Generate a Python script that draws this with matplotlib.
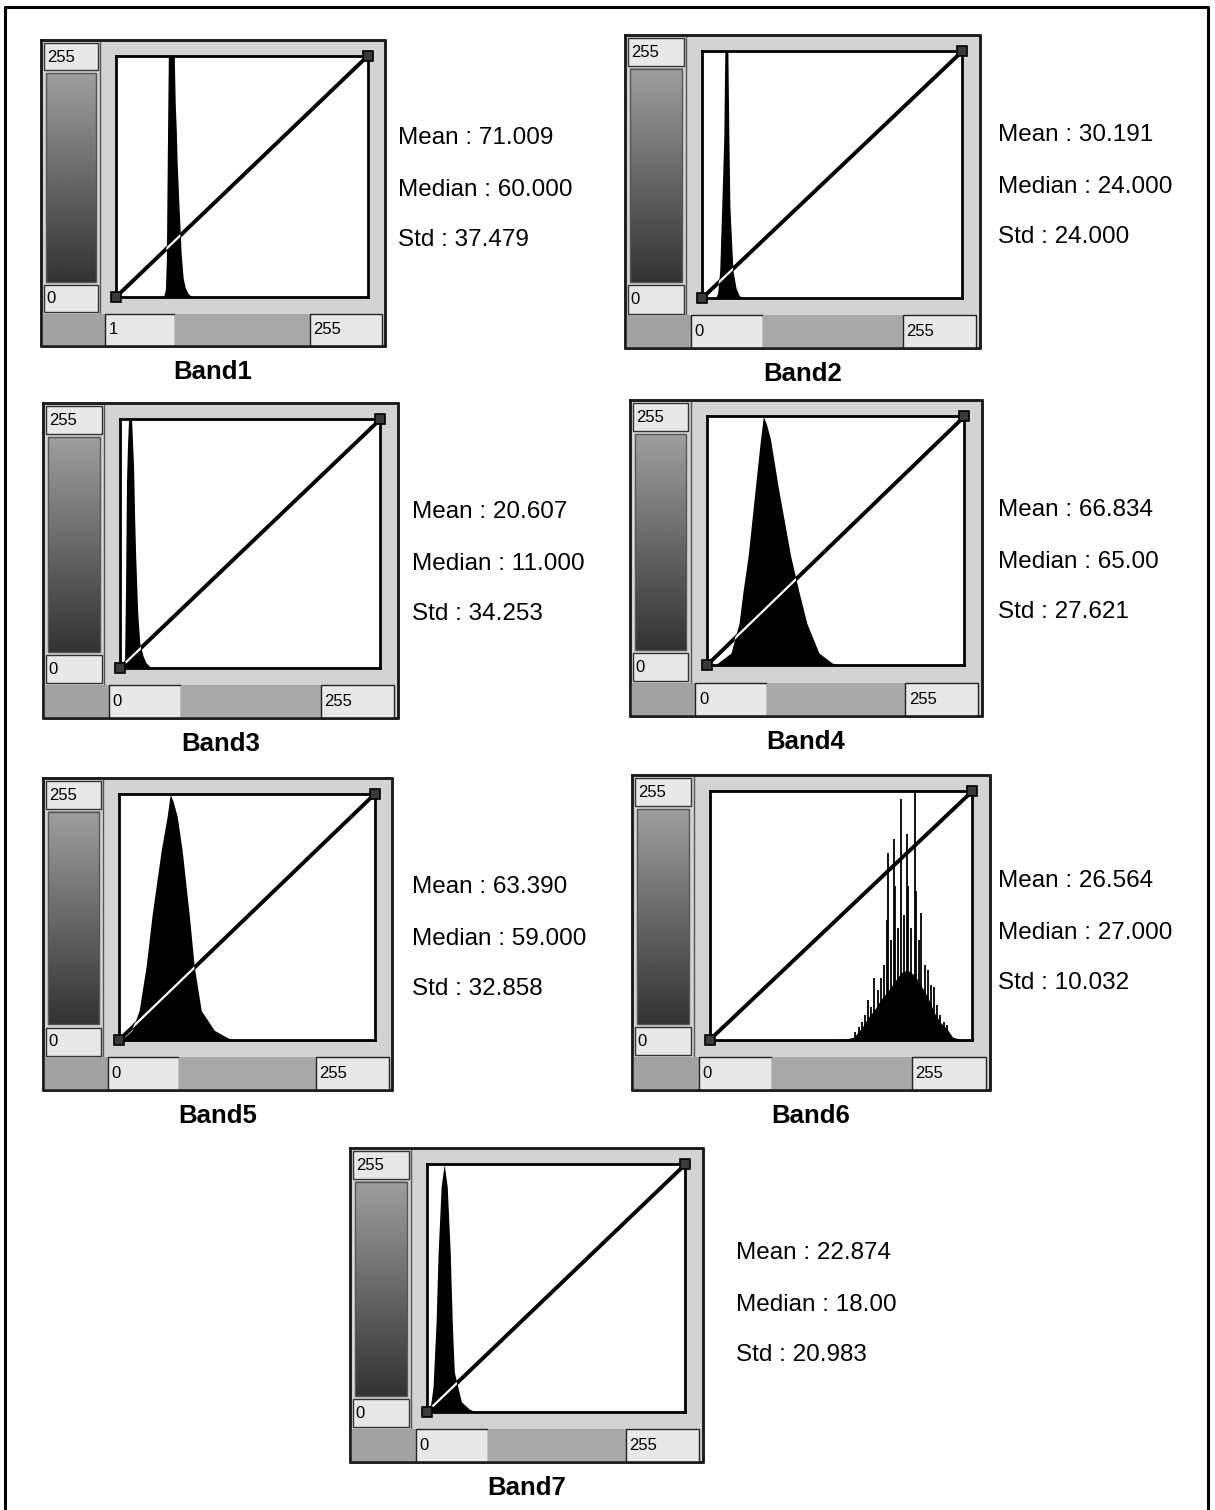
import numpy as np
import matplotlib.pyplot as plt
from matplotlib.patches import Rectangle

plt.rcParams['font.family'] = ['Liberation Sans', 'DejaVu Sans']

W, H = 1215, 1510

# histogram outlines: gray level -> relative count (1.0 = top of the plot box)
band1_lv = [48, 50, 51, 52, 53, 59, 60, 61, 62, 64, 66, 68, 70, 73, 77]
band1_ht = [0, 0.03, 0.15, 0.60, 1.0, 1.0, 0.80, 0.70, 0.55, 0.36, 0.18, 0.08, 0.04, 0.015, 0]

band2_lv = [13, 15, 17, 19, 21, 22, 25, 26, 27, 30, 33, 36, 40]
band2_ht = [0, 0.02, 0.11, 0.37, 0.65, 1.0, 1.0, 0.65, 0.37, 0.11, 0.04, 0.01, 0]

band3_lv = [4, 5, 6, 7, 8, 11, 12, 13, 14, 15, 17, 19, 22, 25, 30]
band3_ht = [0, 0.30, 0.75, 0.90, 1.0, 1.0, 0.90, 0.80, 0.60, 0.45, 0.22, 0.10, 0.05, 0.02, 0]

band4_lv = [8, 11, 24, 32, 36, 41, 48, 53, 56, 59, 63, 71, 83, 91, 99, 111, 124, 130]
band4_ht = [0, 0.01, 0.05, 0.17, 0.30, 0.44, 0.71, 0.90, 1.0, 0.97, 0.91, 0.71, 0.44, 0.30, 0.17, 0.05, 0.01, 0]

band5_lv = [3, 5, 13, 20, 27, 33, 42, 48, 51, 54, 58, 63, 70, 75, 82, 95, 108, 115]
band5_ht = [0, 0.01, 0.04, 0.12, 0.30, 0.51, 0.77, 0.91, 1.0, 0.97, 0.91, 0.77, 0.51, 0.30, 0.12, 0.04, 0.01, 0]

band6_lv = [120, 135, 140, 148, 154, 160, 166, 172, 179, 186, 192, 199, 205, 212, 218, 224, 231, 236, 245]
band6_ht = [0, 0.005, 0.01, 0.05, 0.09, 0.12, 0.16, 0.19, 0.23, 0.27, 0.28, 0.26, 0.22, 0.17, 0.11, 0.07, 0.04, 0.01, 0]
# isolated tall bins in band 6
band6_spike_lv = [141, 145, 148, 151, 154, 157, 160, 163, 166, 169, 172, 173, 176, 179, 180,
                  183, 186, 189, 192, 193, 196, 199, 200, 203, 205, 209, 212, 215, 218, 221,
                  224, 228, 231]
band6_spike_ht = [0.03, 0.05, 0.07, 0.10, 0.16, 0.13, 0.25, 0.20, 0.25, 0.30, 0.48, 0.75, 0.40,
                  0.81, 0.62, 0.45, 0.97, 0.50, 0.83, 0.62, 0.45, 1.0, 0.60, 0.40, 0.51, 0.30,
                  0.28, 0.22, 0.21, 0.14, 0.10, 0.07, 0.06]

band7_lv = [1, 3, 6, 9, 11, 14, 17, 18, 20, 23, 25, 27, 34, 42, 48]
band7_ht = [0, 0.01, 0.10, 0.36, 0.64, 0.91, 1.0, 0.97, 0.91, 0.64, 0.36, 0.16, 0.04, 0.01, 0]

band_names = ['Band1', 'Band2', 'Band3', 'Band4', 'Band5', 'Band6', 'Band7']
means = ['71.009', '30.191', '20.607', '66.834', '63.390', '26.564', '22.874']
medians = ['60.000', '24.000', '11.000', '65.00', '59.000', '27.000', '18.00']
stds = ['37.479', '24.000', '34.253', '27.621', '32.858', '10.032', '20.983']
low_labels = ['1', '0', '0', '0', '0', '0', '0']
high_label = '255'

hists = [(band1_lv, band1_ht), (band2_lv, band2_ht), (band3_lv, band3_ht),
         (band4_lv, band4_ht), (band5_lv, band5_ht), (band6_lv, band6_ht),
         (band7_lv, band7_ht)]

# widget frames (left, top, width, height) and stats text anchor, in pixels
frames = [(41, 40, 344, 306), (625, 35, 355, 313), (43, 403, 355, 315),
          (630, 400, 352, 316), (43, 778, 349, 312), (632, 775, 358, 315),
          (350, 1148, 353, 314)]
stats_xy = [(398, 138), (998, 135), (412, 512), (998, 510), (412, 887),
            (998, 881), (736, 1253)]

fig = plt.figure(figsize=(W / 100, H / 100), dpi=100)
bg = fig.add_axes([0, 0, 1, 1])
bg.axis('off')

ramp = np.linspace(0.62, 0.2, 200).reshape(-1, 1)


def rect(x, y, w, h, fc, ec='none', lw=0.0, z=1):
    bg.add_patch(Rectangle((x, y), w, h, facecolor=fc, edgecolor=ec,
                           linewidth=lw, zorder=z))


def px_axes(x, y, w, h):
    return fig.add_axes([x / W, 1 - (y + h) / H, w / W, h / H])


for i, (fx, fy, fw, fh) in enumerate(frames):
    # frame body
    rect(fx, fy, fw, fh, '#d3d3d3', ec='#1a1a1a', lw=1.8)
    # left column: top value box, gray ramp, bottom value box
    cx, cw = fx + 0.008 * fw, 0.158 * fw
    rect(cx, fy + 0.01 * fh, cw, 0.088 * fh, '#e8e8e8', ec='#333333', lw=1.0, z=2)
    bg.text(cx + 3, fy + 0.056 * fh, '255', fontsize=12, va='center', zorder=3)
    bg.imshow(ramp, cmap='gray', vmin=0, vmax=1, aspect='auto', zorder=2,
              extent=(cx + 2, cx + cw - 2, fy + 0.79 * fh, fy + 0.108 * fh))
    rect(cx + 2, fy + 0.108 * fh, cw - 4, 0.682 * fh, 'none', ec='#555555', lw=1.0, z=3)
    rect(cx, fy + 0.80 * fh, cw, 0.09 * fh, '#e8e8e8', ec='#333333', lw=1.0, z=2)
    bg.text(cx + 3, fy + 0.846 * fh, '0', fontsize=12, va='center', zorder=3)
    bg.plot([fx + 0.172 * fw] * 2, [fy, fy + 0.895 * fh], color='#555555', lw=1.0, zorder=2)
    # bottom strip with range boxes
    by, bh = fy + 0.895 * fh, 0.105 * fh
    rect(fx, by, 0.186 * fw, bh, '#a2a2a2', z=2)
    rect(fx + 0.186 * fw, by, 0.204 * fw, bh, '#e8e8e8', ec='#222222', lw=1.0, z=2)
    bg.text(fx + 0.196 * fw, by + bh / 2, low_labels[i], fontsize=12, va='center', zorder=3)
    rect(fx + 0.39 * fw, by, 0.392 * fw, bh, '#a8a8a8', z=2)
    rect(fx + 0.782 * fw, by, 0.208 * fw, bh, '#e8e8e8', ec='#222222', lw=1.0, z=2)
    bg.text(fx + 0.792 * fw, by + bh / 2, high_label, fontsize=12, va='center', zorder=3)
    bg.plot([fx, fx + fw, fx + fw, fx, fx], [fy, fy, fy + fh, fy + fh, fy],
            color='#1a1a1a', lw=1.8, zorder=4)

    # histogram plot box
    ax = px_axes(fx + 0.218 * fw, fy + 0.052 * fh, 0.732 * fw, 0.788 * fh)
    lv, ht = hists[i]
    poly = ax.fill_between(lv, ht, color='black', lw=0, zorder=2)
    if i == 5:
        ax.vlines(band6_spike_lv, 0, band6_spike_ht, color='black', lw=1.3, zorder=2)
    ax.plot([0, 255], [0, 1], color='black', lw=2.8, zorder=3, solid_capstyle='butt')
    # the transfer line turns white where it crosses the histogram
    inner, = ax.plot([0, 255], [0, 1], color='white', lw=1.6, zorder=4)
    inner.set_clip_path(poly.get_paths()[0], ax.transData)
    ax.plot([0, 255], [0, 1], 's', ms=7, mfc='#3a3a3a', mec='black', mew=1.2,
            zorder=5, clip_on=False)
    ax.set_xlim(0, 255)
    ax.set_ylim(0, 1)
    ax.set_xticks([])
    ax.set_yticks([])
    for s in ax.spines.values():
        s.set_linewidth(2.0)
        s.set_color('black')

    # statistics and band name
    sx, sy = stats_xy[i]
    bg.text(sx, sy, f'Mean : {means[i]}', fontsize=17.5, va='center')
    bg.text(sx, sy + 52, f'Median : {medians[i]}', fontsize=17.5, va='center')
    bg.text(sx, sy + 102, f'Std : {stds[i]}', fontsize=17.5, va='center')
    bg.text(fx + fw / 2, fy + fh + 26, band_names[i], fontsize=18.5,
            fontweight='bold', ha='center', va='center')

# page border
bg.plot([5, 5, 1208, 1208], [H, 7, 7, H], color='black', lw=2.2, zorder=5)
bg.set_xlim(0, W)
bg.set_ylim(H, 0)

fig.savefig('out.png', dpi=100)
